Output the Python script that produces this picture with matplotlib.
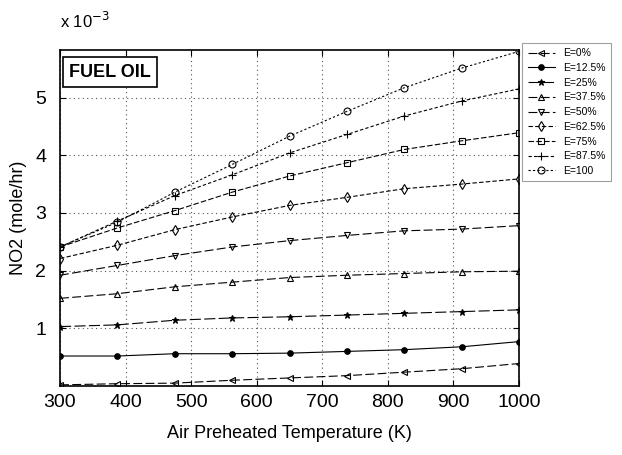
import matplotlib
matplotlib.use("Agg")
import matplotlib.pyplot as plt

plt.rcParams['font.family'] = ['Liberation Sans', 'DejaVu Sans']

temperature = [300, 387.5, 475, 562.5, 650, 737.5, 825, 912.5, 1000]

labels = ["E=0%", "E=12.5%", "E=25%", "E=37.5%", "E=50%",
          "E=62.5%", "E=75%", "E=87.5%", "E=100"]

e0 = [0.02, 0.04, 0.05, 0.10, 0.14, 0.18, 0.24, 0.30, 0.39]
e12 = [0.52, 0.52, 0.56, 0.56, 0.57, 0.60, 0.63, 0.68, 0.77]
e25 = [1.03, 1.06, 1.14, 1.18, 1.20, 1.23, 1.26, 1.29, 1.32]
e37 = [1.52, 1.60, 1.72, 1.80, 1.88, 1.92, 1.95, 1.98, 1.99]
e50 = [1.92, 2.09, 2.26, 2.41, 2.52, 2.61, 2.69, 2.72, 2.78]
e62 = [2.21, 2.44, 2.71, 2.93, 3.13, 3.27, 3.42, 3.50, 3.59]
e75 = [2.41, 2.74, 3.04, 3.36, 3.64, 3.87, 4.10, 4.25, 4.39]
e87 = [2.41, 2.86, 3.30, 3.66, 4.04, 4.36, 4.68, 4.94, 5.15]
e100 = [2.41, 2.84, 3.36, 3.84, 4.33, 4.76, 5.17, 5.51, 5.80]

series = [e0, e12, e25, e37, e50, e62, e75, e87, e100]
markers = ['<', 'o', '*', '^', 'v', 'd', 's', '+', 'o']
fills = ['none', 'k', 'k', 'none', 'none', 'none', 'none', 'k', 'none']
sizes = [5, 4, 5, 5, 5, 5, 5, 6, 5]
styles = [(0, (8, 3)), '-', (0, (10, 3)), (0, (8, 3)), (0, (8, 3)),
          (0, (4, 2)), (0, (5, 2)), (0, (3, 2)), (0, (2, 2))]

fig = plt.figure(figsize=(6.22, 4.55), dpi=100)
ax = fig.add_axes([0.0965, 0.1516, 0.738, 0.738])

for vals, lab, m, fc, ms, ls in zip(series, labels, markers, fills, sizes, styles):
    ax.plot(temperature, vals, color='black', linestyle=ls, linewidth=0.8,
            marker=m, markersize=ms, markerfacecolor=fc,
            markeredgecolor='black', markeredgewidth=0.8, label=lab)

ax.set_xlim(300, 1000)
ax.set_ylim(0, 5.82)
ax.set_xticks(range(300, 1001, 100))
ax.set_yticks([1, 2, 3, 4, 5])
ax.tick_params(direction='in', labelsize=14, length=4, top=True, right=True)
ax.tick_params(axis='x', pad=6)
ax.tick_params(axis='y', pad=10)
ax.grid(True, linestyle=(0, (1, 3)), color='#555555', linewidth=0.8)
for sp in ax.spines.values():
    sp.set_linewidth(1.2)

ax.set_xlabel("Air Preheated Temperature (K)", fontsize=13, labelpad=10)
ax.set_ylabel("NO2 (mole/hr)", fontsize=13, labelpad=6)

fig.text(0.097, 0.955, r"x 10$^{-3}$", fontsize=12, ha='left', va='center')

ax.text(0.02, 0.96, "FUEL OIL", transform=ax.transAxes, fontsize=13,
        fontweight='bold', ha='left', va='top',
        bbox=dict(boxstyle='square,pad=0.35', facecolor='white',
                  edgecolor='black', linewidth=1.2))

leg = fig.legend(loc='upper left', bbox_to_anchor=(0.84, 0.905),
                 fontsize=7.5, frameon=True, fancybox=False,
                 edgecolor='#888888', handlelength=2.6, labelspacing=0.45,
                 borderaxespad=0.0, handletextpad=0.8, borderpad=0.5)
leg.get_frame().set_linewidth(0.8)

fig.savefig("out.png", dpi=100)
